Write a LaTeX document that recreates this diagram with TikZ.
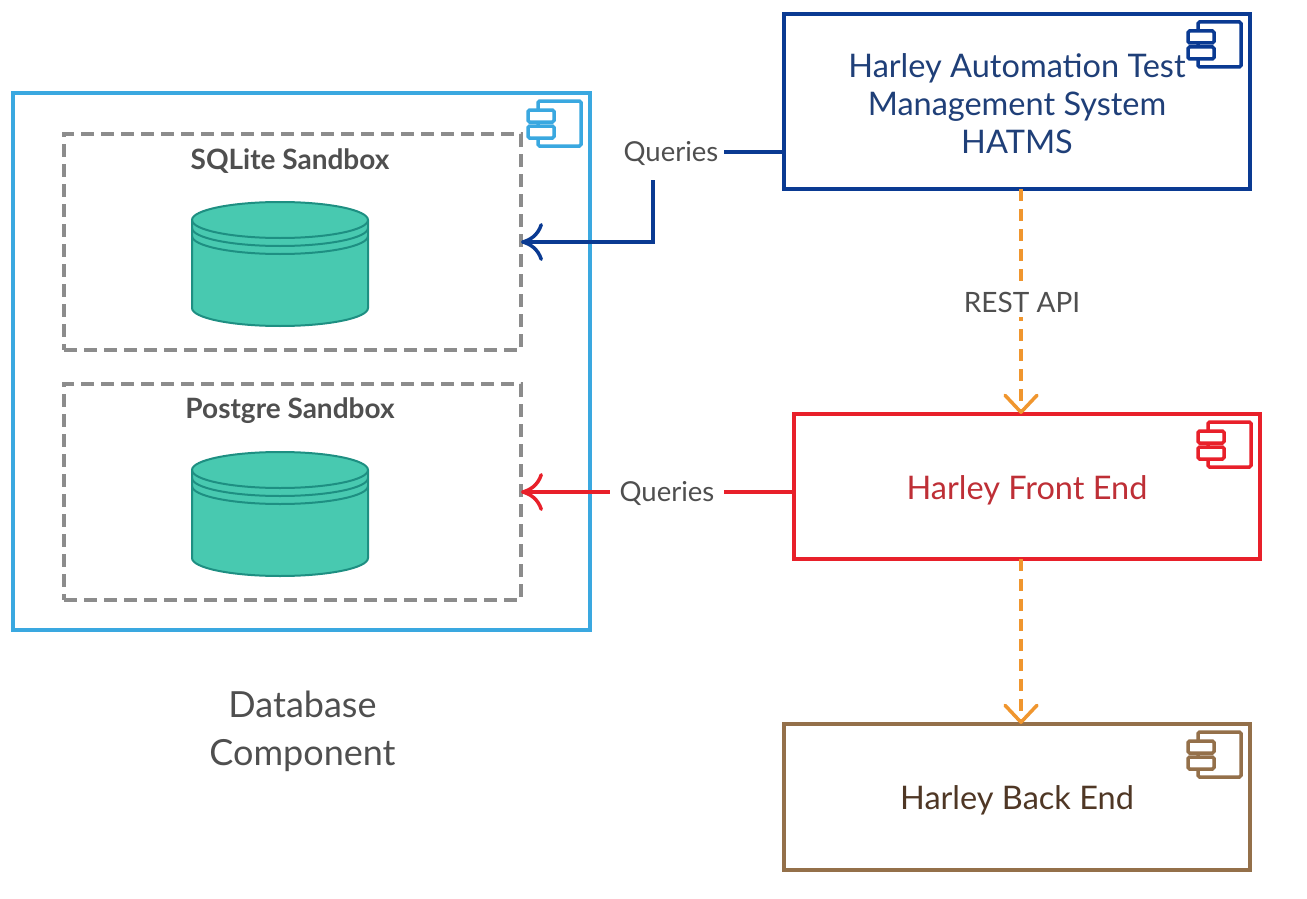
\documentclass[tikz,border=0pt]{standalone}
\usepackage{fontspec}
\setmainfont{Lato}
\usetikzlibrary{arrows.meta}
\definecolor{dbblue}{HTML}{3AA8E0}
\definecolor{hatmsblue}{HTML}{0A3A92}
\definecolor{hatmstext}{HTML}{1F3F78}
\definecolor{frontred}{HTML}{E8202A}
\definecolor{fronttext}{HTML}{BE2F36}
\definecolor{backbrown}{HTML}{94704A}
\definecolor{backtext}{HTML}{4F3725}
\definecolor{restorange}{HTML}{F0962E}
\definecolor{sandgray}{HTML}{8C8C8C}
\definecolor{labelgray}{HTML}{4F4F4F}
\definecolor{cylfill}{HTML}{48C9B0}
\definecolor{cylline}{HTML}{1E8F82}
\tikzset{
    compbox/.style={draw=#1, line width=3.5pt, fill=none, anchor=north west, inner sep=0pt, outer sep=0pt},
    sandbox/.style={draw=sandgray, line width=3.5pt, dash pattern=on 13pt off 7pt, minimum width=457pt, minimum height=216pt, inner sep=0pt, outer sep=0pt},
    sandtitle/.style={text=labelgray, font=\fontsize{28}{30}\selectfont\bfseries},
    querylabel/.style={fill=white, text=labelgray, font=\fontsize{27.5}{30}\selectfont, minimum height=56pt, inner xsep=9pt},
    querytip/.style={-{Computer Modern Rightarrow[length=22pt,width=38pt]}, line width=3.5pt},
    resttip/.style={-{Straight Barb[length=17pt,width=32pt,round]}, draw=restorange, line width=3.5pt, dash pattern=on 12pt off 8pt},
    pics/compicon/.style={code={
        \draw[#1, line width=3.5pt, rounded corners=1.5pt, fill=white] (-52,8) rectangle (-9,53);
        \draw[#1, line width=3.5pt, rounded corners=1.5pt, fill=white] (-62,17) rectangle (-36,29);
        \draw[#1, line width=3.5pt, rounded corners=1.5pt, fill=white] (-62,33) rectangle (-36,45);
    }},
    pics/dbcylinder/.style={code={
        \draw[cylline, fill=cylfill, line width=2pt] (-88,0) arc [start angle=180, end angle=360, x radius=88, y radius=18] -- (88,88) arc [start angle=0, end angle=180, x radius=88, y radius=18] -- cycle;
        \draw[cylline, line width=2pt] (-88,0) arc [start angle=180, end angle=0, x radius=88, y radius=18];
        \draw[cylline, line width=2pt] (-88,8) arc [start angle=180, end angle=0, x radius=88, y radius=18];
        \draw[cylline, line width=2pt] (-88,16) arc [start angle=180, end angle=0, x radius=88, y radius=18];
    }}
}
\begin{document}
\begin{tikzpicture}[x=1pt, y=-1pt]
    \useasboundingbox (0,0) rectangle (1307,899);
    % database side
    \node[compbox=dbblue, minimum width=577pt, minimum height=537pt] (database) at (13,93) {};
    \pic at (database.north east) {compicon=dbblue};
    \node[sandbox] (sqlite) at (292.5,242) {};
    \node[sandbox] (postgre) at (292.5,492) {};
    \node[sandtitle] (sqlitetitle) at (290,161) {SQLite Sandbox};
    \node[sandtitle] (postgretitle) at (290,411) {Postgre Sandbox};
    \pic at (280,220) {dbcylinder};
    \pic at (280,470) {dbcylinder};
    \node[text=labelgray, align=center, font=\fontsize{36}{48}\selectfont] (dblabel) at (302.5,731) {Database\\Component};
    % components
    \node[compbox=hatmsblue, minimum width=466pt, minimum height=175pt] (hatms) at (784,14) {};
    \pic at (hatms.north east) {compicon=hatmsblue};
    \node[text=hatmstext, align=center, font=\fontsize{32.5}{38}\selectfont] (hatmstitle) at (1017,103.5) {Harley Automation Test\\Management System\\HATMS};
    \node[compbox=frontred, minimum width=466pt, minimum height=145pt] (frontend) at (794,414) {};
    \pic at (frontend.north east) {compicon=frontred};
    \node[text=fronttext, font=\fontsize{32.5}{38}\selectfont] (fronttitle) at (1027,490) {Harley Front End};
    \node[compbox=backbrown, minimum width=466pt, minimum height=146pt] (backend) at (784,724) {};
    \pic at (backend.north east) {compicon=backbrown};
    \node[text=backtext, font=\fontsize{32.5}{38}\selectfont] (backtitle) at (1017,800) {Harley Back End};
    % connectors
    \draw[querytip, hatmsblue] ([yshift=-50.5pt]hatms.west) -- ++(-131,0) |- (sqlite.east);
    \draw[querytip, frontred] ([yshift=-5.5pt]frontend.west) -- (postgre.east);
    \draw[resttip] ([xshift=4pt]hatms.south) -- ([xshift=-6pt]frontend.north);
    \draw[resttip] ([xshift=-6pt]frontend.south) -- ([xshift=4pt]backend.north);
    \node[querylabel, text height=20pt, text depth=2pt, minimum width=106pt, inner xsep=0pt] (hatmsquery) at (671,152) {Queries};
    \node[querylabel, text height=20pt, text depth=2pt, minimum width=114pt, inner xsep=0pt] (frontquery) at (667,492) {Queries};
    \node[fill=white, text=labelgray, font=\fontsize{28}{30}\selectfont, inner sep=5pt] (restlabel) at (1022,302) {REST API};
\end{tikzpicture}
\end{document}
